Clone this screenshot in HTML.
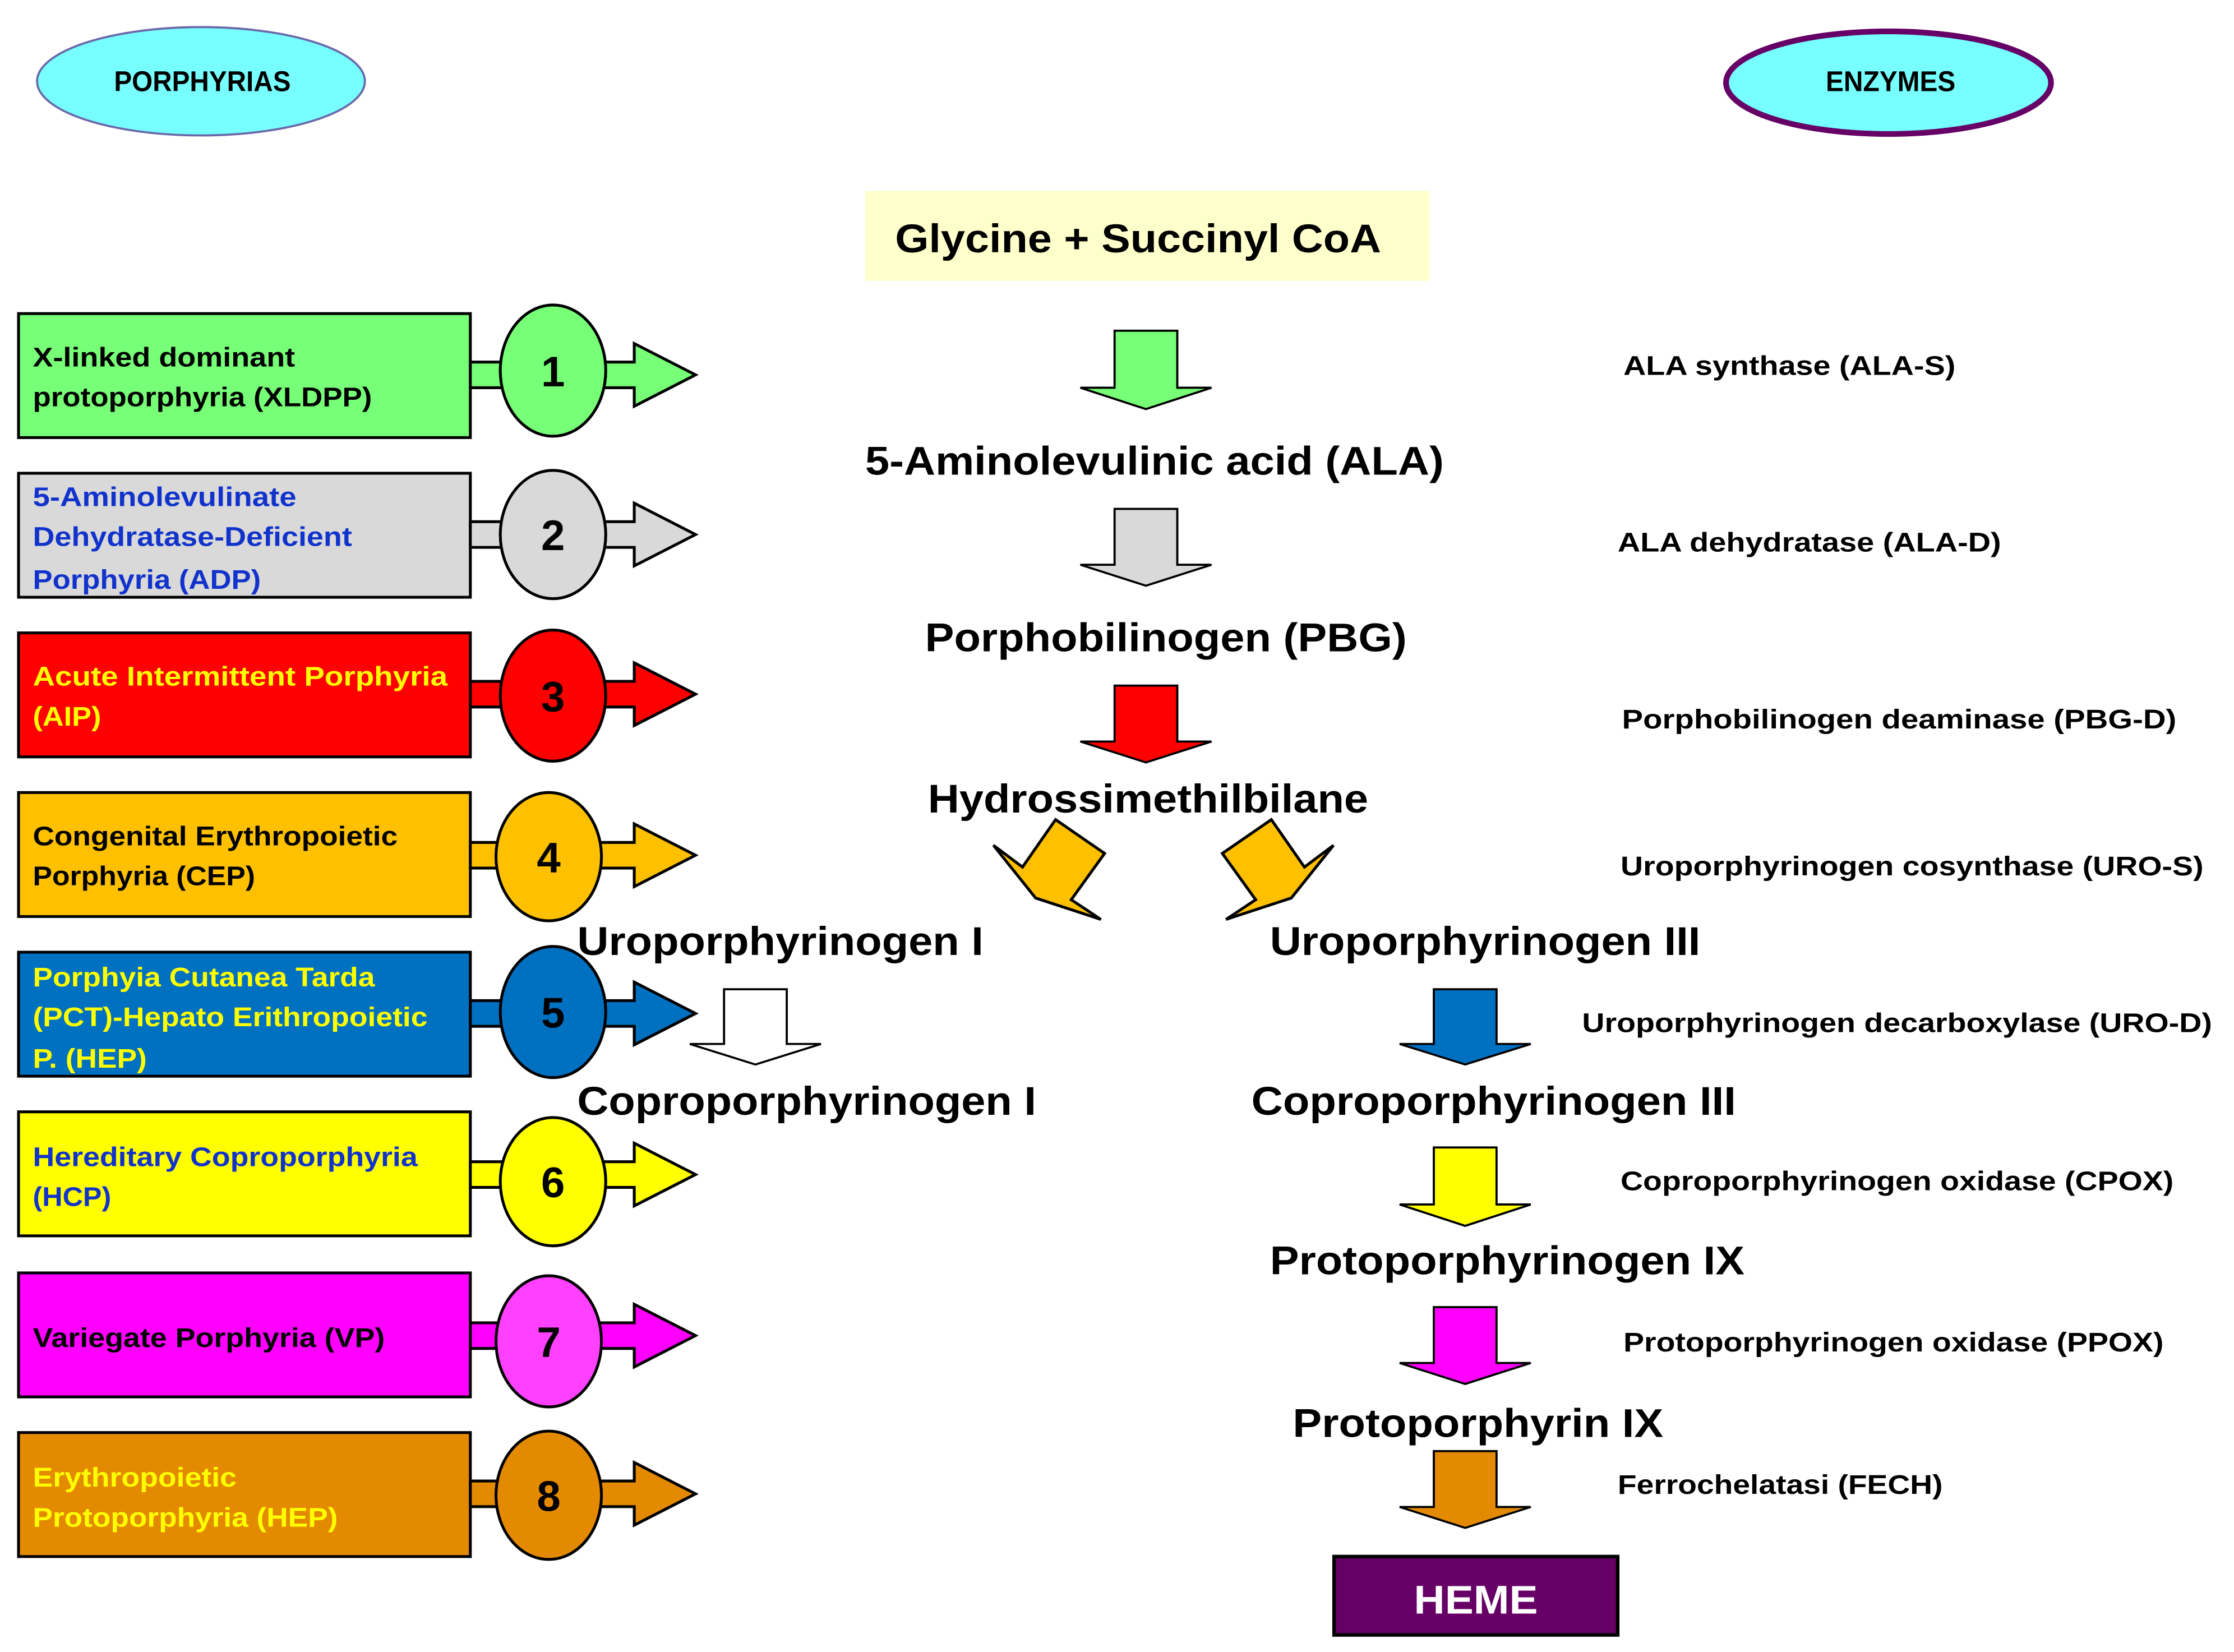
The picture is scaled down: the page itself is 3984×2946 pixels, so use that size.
<!DOCTYPE html>
<html><head><meta charset="utf-8"><style>
html,body{margin:0;padding:0;background:#fff}
svg{display:block}
text{font-family:"Liberation Sans",Arial,sans-serif;font-weight:bold}
</style></head><body>
<svg width="3984" height="2946" viewBox="0 0 1558 1152" preserveAspectRatio="none" xmlns="http://www.w3.org/2000/svg">
<defs>
<g id="da"><path d="M-22,0 H22 V40 H46 L0,55 L-46,40 H-22 Z"/></g>
</defs>
<g transform="scale(0.994)">
<!-- header ellipses -->
<ellipse cx="141" cy="57" rx="115" ry="38" fill="#77ffff" stroke="#6a6aaa" stroke-width="1.5"/>
<text x="80" y="64" font-size="20" textLength="124" lengthAdjust="spacingAndGlyphs">PORPHYRIAS</text>
<ellipse cx="1325" cy="58" rx="114" ry="36" fill="#77ffff" stroke="#660066" stroke-width="4"/>
<text x="1281" y="64" font-size="20" textLength="91" lengthAdjust="spacingAndGlyphs">ENZYMES</text>

<!-- left rows -->
<g stroke="#000" stroke-width="2">
<g fill="#77ff77"><rect x="13" y="220" width="317" height="87"/><path d="M330,254 H445 V241 L488,263 L445,285 V272 H330 Z"/><ellipse cx="388" cy="260" rx="37" ry="46"/></g>
<g fill="#d9d9d9"><rect x="13" y="332" width="317" height="87"/><path d="M330,366 H445 V353 L488,375 L445,397 V384 H330 Z"/><ellipse cx="388" cy="375" rx="37" ry="45"/></g>
<g fill="#ff0000"><rect x="13" y="444" width="317" height="87"/><path d="M330,478 H445 V465 L488,487 L445,509 V496 H330 Z"/><ellipse cx="388" cy="488" rx="37" ry="46"/></g>
<g fill="#ffc000"><rect x="13" y="556" width="317" height="87"/><path d="M330,591 H445 V578 L488,600 L445,622 V609 H330 Z"/><ellipse cx="385" cy="601" rx="37" ry="45"/></g>
<g fill="#0070c0"><rect x="13" y="668" width="317" height="87"/><path d="M330,702 H445 V689 L488,711 L445,733 V720 H330 Z"/><ellipse cx="388" cy="710" rx="37" ry="46"/></g>
<g fill="#ffff00"><rect x="13" y="780" width="317" height="87"/><path d="M330,815 H445 V802 L488,824 L445,846 V833 H330 Z"/><ellipse cx="388" cy="829" rx="37" ry="45"/></g>
<g fill="#ff00ff"><rect x="13" y="893" width="317" height="87"/><path d="M330,928 H445 V915 L488,937 L445,959 V946 H330 Z"/><ellipse cx="385" cy="941" rx="37" ry="46" fill="#ff40ff"/></g>
<g fill="#e38a00"><rect x="13" y="1005" width="317" height="87"/><path d="M330,1039 H445 V1026 L488,1048 L445,1070 V1057 H330 Z"/><ellipse cx="385" cy="1049" rx="37" ry="45"/></g>
</g>
<g font-size="30" text-anchor="middle" fill="#000">
<text x="388" y="271">1</text><text x="388" y="386">2</text><text x="388" y="499">3</text><text x="385" y="612">4</text>
<text x="388" y="721">5</text><text x="388" y="840">6</text><text x="385" y="952">7</text><text x="385" y="1060">8</text>
</g>
<g font-size="19">
<text x="23" y="257" textLength="184" lengthAdjust="spacingAndGlyphs">X-linked dominant</text>
<text x="23" y="285" textLength="238" lengthAdjust="spacingAndGlyphs">protoporphyria (XLDPP)</text>
<g fill="#1133cc">
<text x="23" y="355" textLength="185" lengthAdjust="spacingAndGlyphs">5-Aminolevulinate</text>
<text x="23" y="383" textLength="224" lengthAdjust="spacingAndGlyphs">Dehydratase-Deficient</text>
<text x="23" y="413" textLength="160" lengthAdjust="spacingAndGlyphs">Porphyria (ADP)</text>
</g>
<g fill="#ffff00">
<text x="23" y="481" textLength="291" lengthAdjust="spacingAndGlyphs">Acute Intermittent Porphyria</text>
<text x="23" y="509" textLength="48" lengthAdjust="spacingAndGlyphs">(AIP)</text>
</g>
<text x="23" y="593" textLength="256" lengthAdjust="spacingAndGlyphs">Congenital Erythropoietic</text>
<text x="23" y="621" textLength="156" lengthAdjust="spacingAndGlyphs">Porphyria (CEP)</text>
<g fill="#ffff00">
<text x="23" y="692" textLength="240" lengthAdjust="spacingAndGlyphs">Porphyia Cutanea Tarda</text>
<text x="23" y="720" textLength="277" lengthAdjust="spacingAndGlyphs">(PCT)-Hepato Erithropoietic</text>
<text x="23" y="749" textLength="80" lengthAdjust="spacingAndGlyphs">P. (HEP)</text>
</g>
<g fill="#1133cc">
<text x="23" y="818" textLength="270" lengthAdjust="spacingAndGlyphs">Hereditary Coproporphyria</text>
<text x="23" y="846" textLength="55" lengthAdjust="spacingAndGlyphs">(HCP)</text>
</g>
<text x="23" y="945" textLength="247" lengthAdjust="spacingAndGlyphs">Variegate Porphyria (VP)</text>
<g fill="#ffff00">
<text x="23" y="1043" textLength="143" lengthAdjust="spacingAndGlyphs">Erythropoietic</text>
<text x="23" y="1071" textLength="214" lengthAdjust="spacingAndGlyphs">Protoporphyria (HEP)</text>
</g>
</g>

<!-- center -->
<rect x="607" y="134" width="396" height="63" fill="#ffffcc"/>
<g font-size="28">
<text x="628" y="177" textLength="341" lengthAdjust="spacingAndGlyphs">Glycine + Succinyl CoA</text>
<text x="607" y="333" textLength="406" lengthAdjust="spacingAndGlyphs">5-Aminolevulinic acid (ALA)</text>
<text x="649" y="457" textLength="338" lengthAdjust="spacingAndGlyphs">Porphobilinogen (PBG)</text>
<text x="651" y="570" textLength="309" lengthAdjust="spacingAndGlyphs">Hydrossimethilbilane</text>
<text x="405" y="670" textLength="285" lengthAdjust="spacingAndGlyphs">Uroporphyrinogen I</text>
<text x="891" y="670" textLength="302" lengthAdjust="spacingAndGlyphs">Uroporphyrinogen III</text>
<text x="405" y="782" textLength="322" lengthAdjust="spacingAndGlyphs">Coproporphyrinogen I</text>
<text x="878" y="782" textLength="340" lengthAdjust="spacingAndGlyphs">Coproporphyrinogen III</text>
<text x="891" y="894" textLength="333" lengthAdjust="spacingAndGlyphs">Protoporphyrinogen IX</text>
<text x="907" y="1008" textLength="260" lengthAdjust="spacingAndGlyphs">Protoporphyrin IX</text>
</g>
<rect x="936" y="1092" width="199" height="55" fill="#660066" stroke="#000" stroke-width="2.5"/>
<text x="992" y="1132" font-size="28" fill="#fff" textLength="87" lengthAdjust="spacingAndGlyphs">HEME</text>

<!-- down arrows -->
<g stroke="#000" stroke-width="1.5">
<use href="#da" transform="translate(804,232)" fill="#77ff77"/>
<use href="#da" transform="translate(804,357) scale(1,0.98)" fill="#d9d9d9"/>
<use href="#da" transform="translate(804,481) scale(1,0.98)" fill="#ff0000"/>
<use href="#da" transform="translate(530,694) scale(1,0.96)" fill="#ffffff"/>
<use href="#da" transform="translate(1028,694) scale(1,0.96)" fill="#0070c0"/>
<use href="#da" transform="translate(1028,805)" fill="#ffff00"/>
<use href="#da" transform="translate(1028,917) scale(1,0.98)" fill="#ff00ff"/>
<use href="#da" transform="translate(1028,1018) scale(1,0.98)" fill="#e38a00"/>
<path d="M740.6,575 L775,598.7 L751.6,631.2 L772.4,645 L726.6,630 L697,593 L717.4,608.3 Z" fill="#ffc000" stroke-width="2"/>
<path d="M892,575 L857.6,598.7 L881,631.2 L860.2,645 L906,630 L935.6,593 L915.2,608.3 Z" fill="#ffc000" stroke-width="2"/>
</g>

<!-- enzymes -->
<g font-size="19">
<text x="1139" y="263" textLength="233" lengthAdjust="spacingAndGlyphs">ALA synthase (ALA-S)</text>
<text x="1135" y="387" textLength="269" lengthAdjust="spacingAndGlyphs">ALA dehydratase (ALA-D)</text>
<text x="1138" y="511" textLength="389" lengthAdjust="spacingAndGlyphs">Porphobilinogen deaminase  (PBG-D)</text>
<text x="1137" y="614" textLength="409" lengthAdjust="spacingAndGlyphs">Uroporphyrinogen cosynthase (URO-S)</text>
<text x="1110" y="724" textLength="442" lengthAdjust="spacingAndGlyphs">Uroporphyrinogen decarboxylase (URO-D)</text>
<text x="1137" y="835" textLength="388" lengthAdjust="spacingAndGlyphs">Coproporphyrinogen oxidase (CPOX)</text>
<text x="1139" y="948" textLength="379" lengthAdjust="spacingAndGlyphs">Protoporphyrinogen oxidase (PPOX)</text>
<text x="1135" y="1048" textLength="228" lengthAdjust="spacingAndGlyphs">Ferrochelatasi (FECH)</text>
</g>
</g>
</svg>
</body></html>
